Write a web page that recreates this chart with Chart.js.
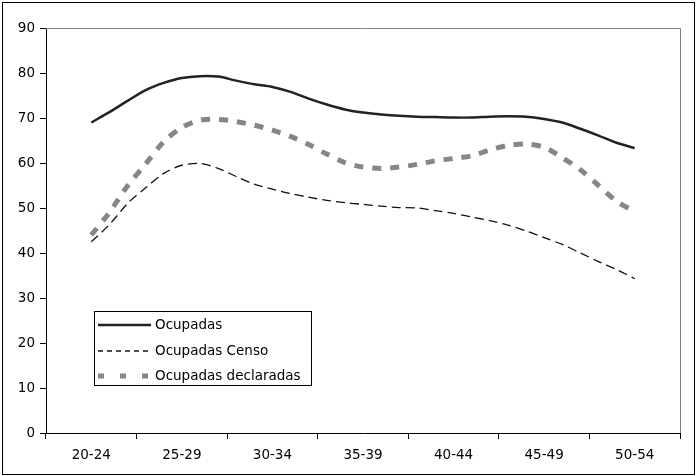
<!DOCTYPE html>
<html>
<head>
<meta charset="utf-8">
<script src="https://cdn.jsdelivr.net/npm/chart.js@4"></script>
<style>
  html, body { margin: 0; padding: 0; background: #fff; }
  #wrap { width: 696px; height: 476px; }
</style>
</head>
<body>
<div id="wrap"><canvas id="chart" width="696" height="476"></canvas></div>
<script>
// age groups shown on the axis
const ageGroups = ['20-24', '25-29', '30-34', '35-39', '40-44', '45-49', '50-54']

// single ages the series are plotted at
const ages = [22, 23, 24, 25, 26, 27, 28, 29, 30, 31, 32, 33, 34, 35, 36, 37,
  38, 39, 40, 41, 42, 43, 44, 45, 46, 47, 48, 49, 50, 51, 52]

const ocupadas = [69.0, 71.3, 73.8, 76.2, 77.8, 78.9, 79.3, 79.2, 78.3, 77.5,
  76.9, 75.8, 74.3, 73.0, 71.9, 71.2, 70.8, 70.5, 70.3, 70.2, 70.1, 70.1,
  70.3, 70.4, 70.3, 69.8, 69.0, 67.6, 66.1, 64.5, 63.3]

const ocupadasCenso = [42.5, 46.3, 51.0, 54.5, 57.7, 59.5, 59.9, 58.8, 57.0,
  55.3, 54.2, 53.2, 52.4, 51.7, 51.2, 50.8, 50.4, 50.1, 50.0, 49.4, 48.8,
  48.0, 47.2, 46.2, 44.9, 43.4, 41.9, 40.0, 38.1, 36.3, 34.3]

const ocupadasDeclaradas = [44.0, 49.0, 54.9, 59.8, 64.7, 67.9, 69.5, 69.7,
  69.2, 68.4, 67.3, 65.9, 64.1, 62.0, 60.1, 59.1, 58.8, 59.1, 59.7, 60.5,
  61.0, 61.6, 62.9, 63.9, 64.2, 63.5, 61.2, 58.5, 55.0, 51.5, 49.2]

const yTicks = { min: 0, max: 90, step: 10 }

function toPoints(values) {
  return ages.map((age, i) => ({ x: age, y: values[i] }))
}

// gray top/right frame of the plot area + outer border
const framePlugin = {
  id: 'frame',
  beforeDatasetsDraw(chart) {
    const { ctx, chartArea: a } = chart
    ctx.save()
    ctx.strokeStyle = '#808080'
    ctx.lineWidth = 1
    ctx.beginPath()
    ctx.moveTo(a.left, a.top + 0.5)
    ctx.lineTo(a.right + 0.5, a.top + 0.5)
    ctx.lineTo(a.right + 0.5, a.bottom)
    ctx.stroke()
    ctx.strokeStyle = '#000'
    ctx.strokeRect(2.5, 2.5, chart.width - 4, chart.height - 4)
    ctx.restore()
  }
}

// boxed legend sitting inside the plot, lower left
const boxLegendPlugin = {
  id: 'boxLegend',
  afterDraw(chart) {
    const { ctx } = chart
    const box = { x: 94.5, y: 311.5, w: 217, h: 74 }
    ctx.save()
    ctx.fillStyle = '#fff'
    ctx.fillRect(box.x, box.y, box.w, box.h)
    ctx.strokeStyle = '#000'
    ctx.lineWidth = 1
    ctx.strokeRect(box.x, box.y, box.w, box.h)

    const rows = [325, 351, 376]
    chart.data.datasets.forEach((ds, i) => {
      const y = rows[i]
      ctx.save()
      ctx.strokeStyle = ds.borderColor
      ctx.lineWidth = ds.borderWidth
      ctx.setLineDash(ds.legendDash || [])
      ctx.beginPath()
      ctx.moveTo(98, y)
      ctx.lineTo(151, y)
      ctx.stroke()
      ctx.restore()
      ctx.fillStyle = '#000'
      ctx.font = '13.5px "DejaVu Sans"'
      ctx.textBaseline = 'middle'
      ctx.fillText(ds.label, 155, y)
    })
    ctx.restore()
  }
}

Chart.defaults.font.family = '"DejaVu Sans", Verdana, sans-serif'
Chart.defaults.font.size = 13.5
Chart.defaults.color = '#000'

new Chart(document.getElementById('chart'), {
  type: 'line',
  data: {
    labels: ageGroups,
    datasets: [
      {
        label: 'Ocupadas',
        data: toPoints(ocupadas),
        xAxisID: 'xa',
        borderColor: '#222',
        borderWidth: 2.5,
        pointRadius: 0,
        tension: 0.3,
        fill: false
      },
      {
        label: 'Ocupadas Censo',
        data: toPoints(ocupadasCenso),
        xAxisID: 'xa',
        borderColor: '#111',
        borderWidth: 1.3,
        borderDash: [9, 5],
        legendDash: [5, 4],
        pointRadius: 0,
        tension: 0.3,
        fill: false
      },
      {
        label: 'Ocupadas declaradas',
        data: toPoints(ocupadasDeclaradas),
        xAxisID: 'xa',
        borderColor: '#868686',
        borderWidth: 5,
        borderDash: [9, 9],
        legendDash: [6, 16],
        pointRadius: 0,
        tension: 0.3,
        fill: false
      }
    ]
  },
  options: {
    responsive: false,
    animation: false,
    layout: { padding: { top: 28, right: 16, left: 0, bottom: 0 } },
    plugins: {
      legend: { display: false },
      tooltip: { enabled: false }
    },
    scales: {
      x: {
        type: 'category',
        position: 'bottom',
        offset: true,
        grid: {
          offset: true,
          drawOnChartArea: false,
          drawTicks: true,
          tickLength: 6,
          tickColor: '#000'
        },
        border: { color: '#000', width: 1 },
        ticks: { autoSkip: false, maxRotation: 0, padding: 8, color: '#000' },
        afterFit(scale) { scale.height = 43 }
      },
      xa: {
        type: 'linear',
        position: 'bottom',
        display: false,
        min: 19.5,
        max: 54.5
      },
      y: {
        min: yTicks.min,
        max: yTicks.max,
        grid: {
          drawOnChartArea: false,
          drawTicks: true,
          tickLength: 6,
          tickColor: '#000'
        },
        border: { color: '#000', width: 1 },
        ticks: { stepSize: yTicks.step, padding: 5, color: '#000' },
        afterFit(scale) { scale.width = 46 }
      }
    }
  },
  plugins: [framePlugin, boxLegendPlugin]
})
</script>
</body>
</html>
